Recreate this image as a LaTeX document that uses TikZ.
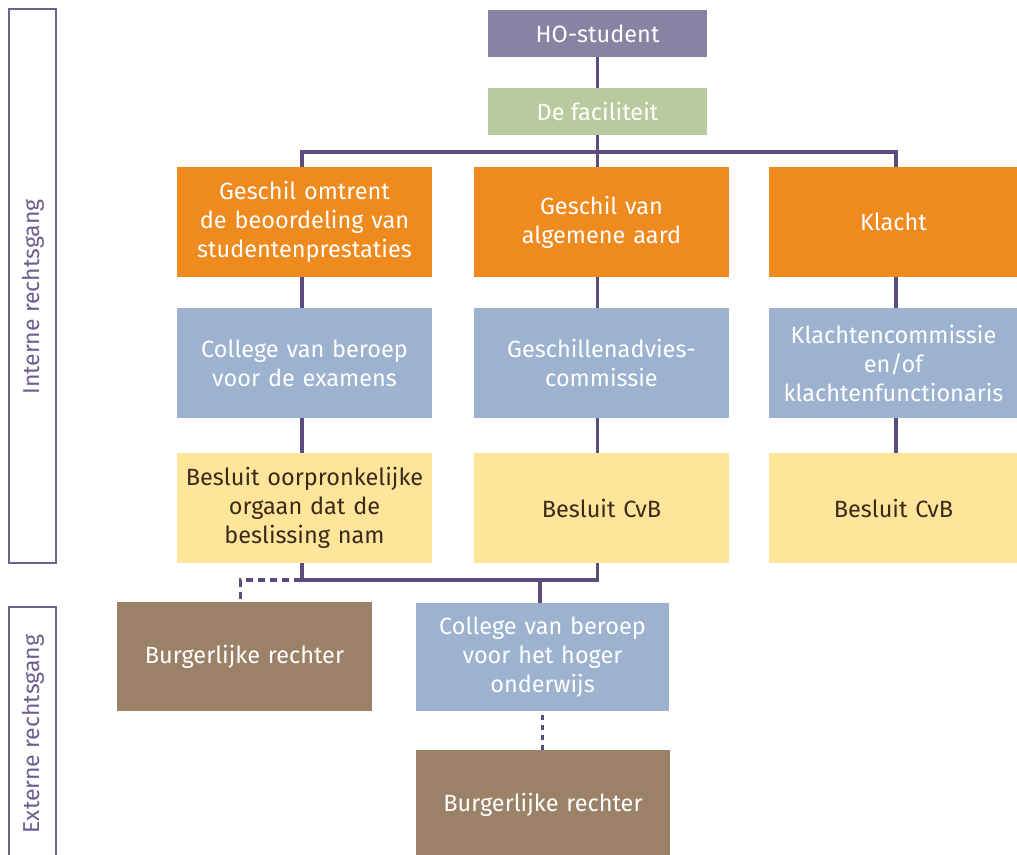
\documentclass[tikz,border=0pt]{standalone}
\usepackage{fontspec}
\setmainfont{Fira Sans}
\definecolor{hoPurple}{HTML}{8A82A3}
\definecolor{facGreen}{HTML}{B9CA9E}
\definecolor{boxOrange}{HTML}{EF8A1F}
\definecolor{boxBlue}{HTML}{9DB2CF}
\definecolor{boxYellow}{HTML}{FEE59A}
\definecolor{boxBrown}{HTML}{9C8169}
\definecolor{lineCol}{HTML}{5E4B7D}
\definecolor{sideCol}{HTML}{6E5E8E}
\definecolor{darkText}{HTML}{3A2A1C}
\begin{document}
\begin{tikzpicture}[x=1pt,y=-1pt,
  base/.style={rectangle, inner sep=2pt, align=center, font=\fontsize{23.5}{29}\selectfont},
  topbox/.style={base, minimum width=219pt, minimum height=47pt, text=white},
  bigbox/.style={base, minimum width=255pt, minimum height=110pt, text width=250pt},
  orangebox/.style={bigbox, fill=boxOrange, text=white},
  bluebox/.style={bigbox, fill=boxBlue, text=white},
  yellowbox/.style={bigbox, fill=boxYellow, text=darkText},
  brownbox/.style={bigbox, fill=boxBrown, text=white},
  conn/.style={draw=lineCol, line width=3.5pt},
  dashconn/.style={conn, dash pattern=on 7pt off 5pt},
  sidebox/.style={draw=sideCol, line width=2pt},
  sidelabel/.style={rotate=90, text=sideCol, font=\fontsize{23}{27}\selectfont}
]
\useasboundingbox (0,0) rectangle (1017,854);

% side frames
\draw[sidebox] (9,9) rectangle (56,563);
\node[sidelabel] (intlab) at (33,297) {Interne rechtsgang};
\draw[sidebox] (9,860) -- (9,607) -- (56,607) -- (56,860);
\node[sidelabel] (extlab) at (33,734) {Externe rechtsgang};

% nodes
\node[topbox, fill=hoPurple] (ho) at (597.5,33.5) {HO-student};
\node[topbox, fill=facGreen] (fac) at (597.5,111.5) {De faciliteit};

\node[orangebox] (o1) at (304.5,222) {Geschil omtrent\\de beoordeling van\\studentenprestaties};
\node[orangebox] (o2) at (601.5,222) {Geschil van\\algemene aard};
\node[orangebox, minimum width=247pt, text width=245pt] (o3) at (893.5,222) {Klacht};

\node[bluebox] (b1) at (304.5,363) {College van beroep\\voor de examens};
\node[bluebox] (b2) at (601.5,363) {Geschillenadvies-\\commissie};
\node[bluebox, minimum width=247pt, text width=245pt] (b3) at (893.5,363) {Klachtencommissie\\en/of\\klachtenfunctionaris};

\node[yellowbox] (y1) at (304.5,508) {Besluit oorpronkelijke\\orgaan dat de\\beslissing nam};
\node[yellowbox] (y2) at (601.5,508) {Besluit CvB};
\node[yellowbox, minimum width=247pt, text width=245pt] (y3) at (893.5,508) {Besluit CvB};

\node[brownbox, minimum height=109pt] (br1) at (244.5,656.5) {Burgerlijke rechter};
\node[bluebox, minimum width=253pt, text width=248pt, minimum height=108pt] (cvb) at (542.5,657) {College van beroep\\voor het hoger\\onderwijs};
\node[brownbox, minimum width=254pt, minimum height=110pt] (br2) at (543,805) {Burgerlijke rechter};

% connectors
\coordinate (bar) at (597.5,152);
\coordinate (join) at (540,580);
\draw[conn] (ho) -- (fac);
\draw[conn] (fac) -- (bar);
\draw[conn] ([xshift=-2.5pt]o1.north) |- (bar);
\draw[conn] (bar) -| ([xshift=2.5pt]o3.north);
\draw[conn] (bar) -- (bar |- o2.north);

\draw[conn] ([xshift=-2.5pt]o1.south) -- ([xshift=-2.5pt]b1.north);
\draw[conn] ([xshift=-4pt]o2.south) -- ([xshift=-4pt]b2.north);
\draw[conn] ([xshift=2.5pt]o3.south) -- ([xshift=2.5pt]b3.north);
\draw[conn] ([xshift=-2.5pt]b1.south) -- ([xshift=-2.5pt]y1.north);
\draw[conn] ([xshift=-4pt]b2.south) -- ([xshift=-4pt]y2.north);
\draw[conn] ([xshift=2.5pt]b3.south) -- ([xshift=2.5pt]y3.north);

\draw[conn] ([xshift=-2.5pt]y1.south) |- (join) -| ([xshift=-4pt]y2.south);
\draw[conn] (join) -- (join |- cvb.north);
\draw[dashconn] ([xshift=-4pt]y1.south |- join) -| ([xshift=-4pt]br1.north);
\draw[conn, dash pattern=on 5pt off 5pt] ([yshift=-4pt]cvb.south) -- (cvb.south |- br2.north);
\end{tikzpicture}
\end{document}
